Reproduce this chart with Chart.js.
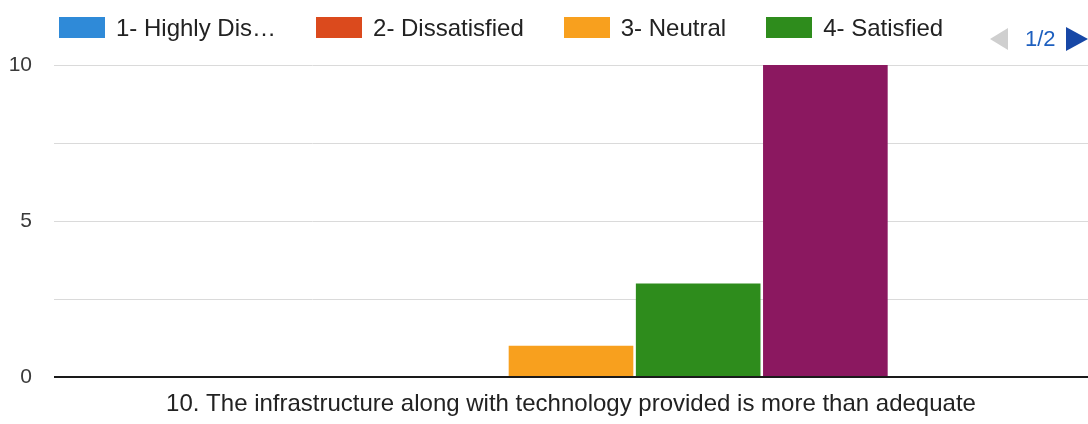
<!DOCTYPE html>
<html>
<head>
<meta charset="utf-8">
<script src="https://cdn.jsdelivr.net/npm/chart.js@4.4.1/dist/chart.umd.min.js"></script>
<style>
  html, body { margin: 0; padding: 0; background: #fff; }
  #wrap { position: relative; width: 1088px; height: 424px; overflow: hidden; font-family: "Liberation Sans", Arial, sans-serif; }
  #legend { position: absolute; left: 59px; top: 17px; height: 21px; display: flex; align-items: center; }
  .item { display: flex; align-items: center; font-size: 24px; color: #222; margin-right: 40px; white-space: nowrap; }
  .box { width: 46px; height: 21px; margin-right: 11px; }
  #pager { position: absolute; left: 990px; top: 27px; height: 24px; display: flex; align-items: center; font-size: 22px; color: #1d5fbf; }
  .tri-l { width: 0; height: 0; border-top: 11px solid transparent; border-bottom: 11px solid transparent; border-right: 18px solid #cfcfcf; margin-right: 17px; }
  .tri-r { width: 0; height: 0; border-top: 12px solid transparent; border-bottom: 12px solid transparent; border-left: 22px solid #1747a6; margin-left: 10px; }
</style>
</head>
<body>
<div id="wrap">
  <canvas id="chart" width="1088" height="424"></canvas>
  <div id="legend"></div>
  <div id="pager"><span class="tri-l"></span><span>1/2</span><span class="tri-r"></span></div>
</div>
<script>
// one question, five answer options (5th is on legend page 2)
const categories = ['10. The infrastructure along with technology provided is more than adequate'];
const seriesNames = ['1- Highly Dissatisfied', '2- Dissatisfied', '3- Neutral', '4- Satisfied', '5- Highly Satisfied'];
const legendShort = ['1- Highly Dis\u2026', '2- Dissatisfied', '3- Neutral', '4- Satisfied'];
const seriesValues = [[0], [0], [1], [3], [10]];
const seriesColors = ['#2f8ad8', '#db4a1d', '#f8a01e', '#2e8c1c', '#8b1860'];
const yTicks = [0, 5, 10];
const gridValues = [0, 2.5, 5, 7.5, 10];

const legend = document.getElementById('legend');
legendShort.forEach((name, i) => {
  const item = document.createElement('div');
  item.className = 'item';
  item.innerHTML = '<span class="box" style="background:' + seriesColors[i] + '"></span>' + name;
  legend.appendChild(item);
});

const ctx = document.getElementById('chart').getContext('2d');
new Chart(ctx, {
  type: 'bar',
  data: {
    labels: categories,
    datasets: seriesNames.map((name, i) => ({
      label: name,
      data: seriesValues[i],
      backgroundColor: seriesColors[i],
      borderWidth: 0,
      barPercentage: 0.98,
      categoryPercentage: 0.615
    }))
  },
  options: {
    responsive: false,
    animation: false,
    layout: { padding: { top: 65, right: 0, bottom: 0, left: 0 } },
    plugins: { legend: { display: false }, tooltip: { enabled: false } },
    scales: {
      x: {
        grid: { display: false },
        border: { display: false },
        ticks: { color: '#222', font: { family: 'Liberation Sans', size: 24 }, padding: 5 },
        afterFit: (scale) => { scale.height = 47; }
      },
      y: {
        min: 0,
        max: 10,
        border: { display: false },
        afterFit: (scale) => { scale.width = 54; },
        afterBuildTicks: (scale) => {
          scale.ticks = gridValues.map(v => ({ value: v }));
        },
        grid: {
          drawTicks: false,
          color: (c) => c.tick && c.tick.value === 0 ? '#1a1a1a' : '#dadada',
          lineWidth: (c) => c.tick && c.tick.value === 0 ? 2 : 1
        },
        ticks: {
          color: '#3a3a3a',
          font: { family: 'Liberation Sans', size: 21 },
          padding: 22,
          callback: (v) => yTicks.includes(v) ? String(v) : ''
        }
      }
    }
  }
});
</script>
</body>
</html>
